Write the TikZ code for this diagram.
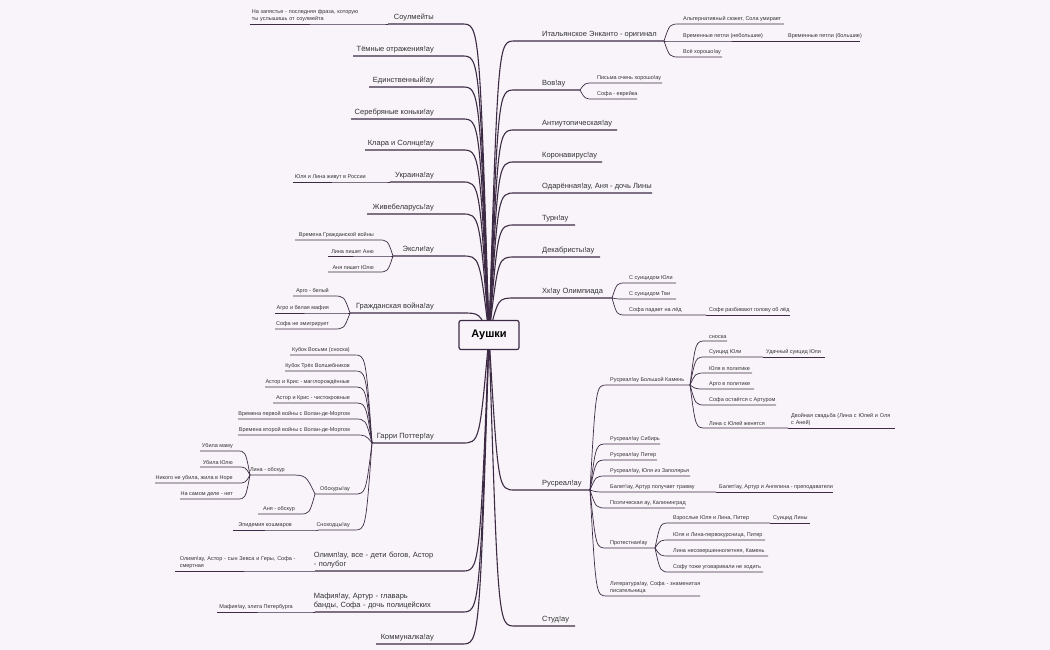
\documentclass[tikz,border=0pt]{standalone}
\usepackage{fontspec}
\setmainfont{Liberation Sans}
\usetikzlibrary{calc}
\definecolor{bg}{HTML}{F8F4F9}
\definecolor{ln}{HTML}{3D2B45}
\definecolor{tx}{HTML}{333333}
\newcommand\RB[8]{%
 \coordinate (#1-i) at (#3,#5); \coordinate (#1) at (#4,#5);
 \draw[#8] let \p1=(#2), \p2=(#1-i) in (\p1) .. controls ({\x1+0.35*(\x2-\x1)},\y2) .. (\p2) -- (#1);
 \node[#6, anchor=south west] (#1-t) at (#1-i) {#7};}
\newcommand\LB[8]{%
 \coordinate (#1-i) at (#3,#5); \coordinate (#1) at (#4,#5);
 \draw[#8] let \p1=(#2), \p2=(#1-i) in (\p1) .. controls ({\x1+0.35*(\x2-\x1)},\y2) .. (\p2) -- (#1);
 \node[#6, anchor=south east] (#1-t) at (#1-i) {#7};}
\begin{document}
\begin{tikzpicture}[x=1pt,y=-1pt,
 mt/.style={text=tx,inner sep=1pt,yshift=1.5pt,font=\fontsize{7.5}{9.5}\selectfont},
 ct/.style={text=tx,inner sep=1pt,yshift=1.5pt,font=\fontsize{5.5}{7}\selectfont},
 rm/.style={mt,xshift=26pt}, lm/.style={mt,xshift=-27pt},
 rc/.style={ct,xshift=2pt}, lc/.style={ct,xshift=-3pt},
 ml/.style={draw=ln,line width=1.1pt},
 cl/.style={draw=ln,line width=0.7pt}]
\fill[bg] (0,0) rectangle (1050,650);
\useasboundingbox (0,0) rectangle (1050,650);
\coordinate (R) at (489,335);
% right main
\RB{it}{R}{515}{664}{41}{rm}{Итальянское Энканто - оригинал}{ml}
\RB{vov}{R}{515}{580}{90}{rm}{Вов!ay}{ml}
\RB{anti}{R}{515}{617}{130}{rm}{Антиутопическая!ay}{ml}
\RB{kor}{R}{515}{602}{162}{rm}{Коронавирус!ay}{ml}
\RB{oda}{R}{515}{652}{193}{rm}{Одарённая!ay, Аня - дочь Лины}{ml}
\RB{turn}{R}{515}{575}{225}{rm}{Турн!ay}{ml}
\RB{dek}{R}{515}{600}{257}{rm}{Декабристы!ay}{ml}
\RB{hk}{R}{515}{612}{298}{rm}{Хк!ay Олимпиада}{ml}
\RB{rus}{R}{515}{590}{490}{rm}{Русреал!ay}{ml}
\RB{stud}{R}{515}{575}{626}{rm}{Студ!ay}{ml}
% right children
\RB{it1}{it}{680}{784}{24}{rc}{Альтернативный сюжет, Сола умирает}{cl}
\RB{it2}{it}{680}{785}{41}{rc}{Временные петли (небольшие)}{cl}
\RB{it2a}{it2}{785}{860}{41}{rc}{Временные петли (большие)}{cl}
\RB{it3}{it}{680}{722}{57}{rc}{Всё хорошо!ay}{cl}
\RB{vov1}{vov}{594}{662}{83}{rc}{Письма очень хорошо!ay}{cl}
\RB{vov2}{vov}{594}{637}{99}{rc}{Софа - еврейка}{cl}
\RB{hk1}{hk}{626}{676}{283}{rc}{С суицидом Юли}{cl}
\RB{hk2}{hk}{626}{676}{299}{rc}{С суицидом Тви}{cl}
\RB{hk3}{hk}{626}{706}{315}{rc}{Софа падает на лёд}{cl}
\RB{hk3a}{hk3}{706}{790}{315}{rc}{Софе разбивают голову об лёд}{cl}
\RB{rb}{rus}{607}{690}{385}{rc}{Русреал!ay Большой Камень}{cl}
\RB{rs}{rus}{607}{660}{444}{rc}{Русреал!ay Сибирь}{cl}
\RB{rp}{rus}{607}{657}{460}{rc}{Русреал!ay Питер}{cl}
\RB{rz}{rus}{607}{690}{476}{rc}{Русреал!ay, Юля из Заполярья}{cl}
\RB{rbal}{rus}{607}{716}{492}{rc}{Балет!ay, Артур получает травму}{cl}
\RB{rbala}{rbal}{716}{833}{492}{rc}{Балет!ay, Артур и Ангелина - преподаватели}{cl}
\RB{rpoet}{rus}{607}{685}{508}{rc}{Поэтическая ay, Калининград}{cl}
\RB{rprot}{rus}{607}{655}{548}{rc}{Протестная!ay}{cl}
\RB{rlit}{rus}{607}{700}{596}{rc,text width=92pt,align=left}{Литература!ay, Софа - знаменитая писательница}{cl}
\RB{sn}{rb}{706}{727}{341}{rc}{сноска}{cl}
\RB{sj}{rb}{706}{763}{357}{rc}{Суицид Юли}{cl}
\RB{sja}{sj}{763}{825}{357}{rc}{Удачный суицид Юли}{cl}
\RB{yp}{rb}{706}{752}{373}{rc}{Юля в политике}{cl}
\RB{ap}{rb}{706}{754}{389}{rc}{Арго в политике}{cl}
\RB{so}{rb}{706}{776}{405}{rc}{Софа остаётся с Артуром}{cl}
\RB{lj}{rb}{706}{788}{428}{rc}{Лина с Юлей женятся}{cl}
\RB{lja}{lj}{788}{895}{428}{rc,text width=103pt,align=left}{Двойная свадьба (Лина с Юлей и Оля с Аней)}{cl}
\RB{p1}{rprot}{670}{770}{523}{rc}{Взрослые Юля и Лина, Питер}{cl}
\RB{p1a}{p1}{770}{810}{523}{rc}{Суицид Лины}{cl}
\RB{p2}{rprot}{670}{765}{540}{rc}{Юля и Лина-первокурсница, Питер}{cl}
\RB{p3}{rprot}{670}{768}{556}{rc}{Лина несовершеннолетняя, Камень}{cl}
\RB{p4}{rprot}{670}{763}{572}{rc}{Софу тоже уговаривали не ходить}{cl}
% left main
\LB{soul}{R}{462}{388}{24}{lm}{Соулмейты}{ml}
\LB{temn}{R}{462}{353}{56}{lm}{Тёмные отражения!ay}{ml}
\LB{edin}{R}{462}{369}{87}{lm}{Единственный!ay}{ml}
\LB{serb}{R}{462}{351}{119}{lm}{Серебряные коньки!ay}{ml}
\LB{klara}{R}{462}{365}{150}{lm}{Клара и Солнце!ay}{ml}
\LB{ukr}{R}{462}{390}{182}{lm}{Украина!ay}{ml}
\LB{zhyve}{R}{462}{367}{214}{lm}{Живебеларусь!ay}{ml}
\LB{eksli}{R}{462}{393}{256}{lm}{Эксли!ay}{ml}
\LB{grazh}{R}{462}{350}{313}{lm}{Гражданская война!ay}{ml}
\LB{garri}{R}{462}{372}{443}{lm}{Гарри Поттер!ay}{ml}
\LB{olimp}{R}{462}{315}{571}{lm,text width=120pt,align=left}{Олимп!ay, все - дети богов, Астор - полубог}{ml}
\LB{mafia}{R}{462}{315}{612}{lm,text width=120pt,align=left}{Мафия!ay, Артур - главарь банды, Софа - дочь полицейских}{ml}
\LB{komm}{R}{462}{376}{644}{lm}{Коммуналка!ay}{ml}
% left children
\LB{soul1}{soul}{368}{250}{24}{lc,text width=112pt,align=left}{На запястье - последняя фраза, которую ты услышишь от соулмейта}{cl}
\LB{ukr1}{ukr}{370}{293}{182}{lc}{Юля и Лина живут в России}{cl}
\LB{e1}{eksli}{378}{295}{240}{lc}{Времена Гражданской войны}{cl}
\LB{e2}{eksli}{378}{328}{256}{lc}{Лина пишет Аню}{cl}
\LB{e3}{eksli}{378}{328}{272}{lc}{Аня пишет Юлю}{cl}
\LB{g1}{grazh}{333}{293}{296}{lc}{Арго - белый}{cl}
\LB{g2}{grazh}{333}{275}{313}{lc}{Агро и белая мафия}{cl}
\LB{g3}{grazh}{333}{275}{329}{lc}{Софа не эмигрирует}{cl}
\LB{h1}{garri}{354}{290}{355}{lc}{Кубок Восьми (сноска)}{cl}
\LB{h2}{garri}{354}{285}{371}{lc}{Кубок Трёх Волшебников}{cl}
\LB{h3}{garri}{354}{265}{387}{lc}{Астор и Крис - магглорождённые}{cl}
\LB{h4}{garri}{354}{273}{403}{lc}{Астор и Крис - чистокровные}{cl}
\LB{h5}{garri}{354}{238}{419}{lc}{Времена первой войны с Волан-де-Мортом}{cl}
\LB{h6}{garri}{354}{238}{435}{lc}{Времена второй войны с Волан-де-Мортом}{cl}
\LB{obs}{garri}{354}{315}{494}{lc}{Обскуры!ay}{cl}
\LB{sno}{garri}{354}{318}{530}{lc}{Сноходцы!ay}{cl}
\LB{ol}{obs}{289}{250}{475}{lc}{Лина - обскур}{cl}
\LB{oa}{obs}{299}{258}{514}{lc}{Аня - обскур}{cl}
\LB{l1}{ol}{237}{200}{451}{lc}{Убила маму}{cl}
\LB{l2}{ol}{237}{200}{467}{lc}{Убила Юлю}{cl}
\LB{l3}{ol}{237}{155}{483}{lc}{Никого не убила, жила в Норе}{cl}
\LB{l4}{ol}{237}{180}{499}{lc}{На самом деле - нет}{cl}
\LB{sno1}{sno}{296}{233}{530}{lc}{Эпидемия кошмаров}{cl}
\LB{olimp1}{olimp}{312}{175}{571}{lc,text width=128pt,align=left}{Олимп!ay, Астор - сын Зевса и Геры, Софа - смертная}{cl}
\LB{mafia1}{mafia}{297}{217}{612}{lc}{Мафия!ay, элита Петербурга}{cl}
% root
\node[draw=ln,fill=bg,line width=1.2pt,rounded corners=2pt,minimum width=60pt,minimum height=29pt,text=black,font=\fontsize{11}{13}\selectfont\bfseries] (root) at (R) {Аушки};
\end{tikzpicture}
\end{document}
